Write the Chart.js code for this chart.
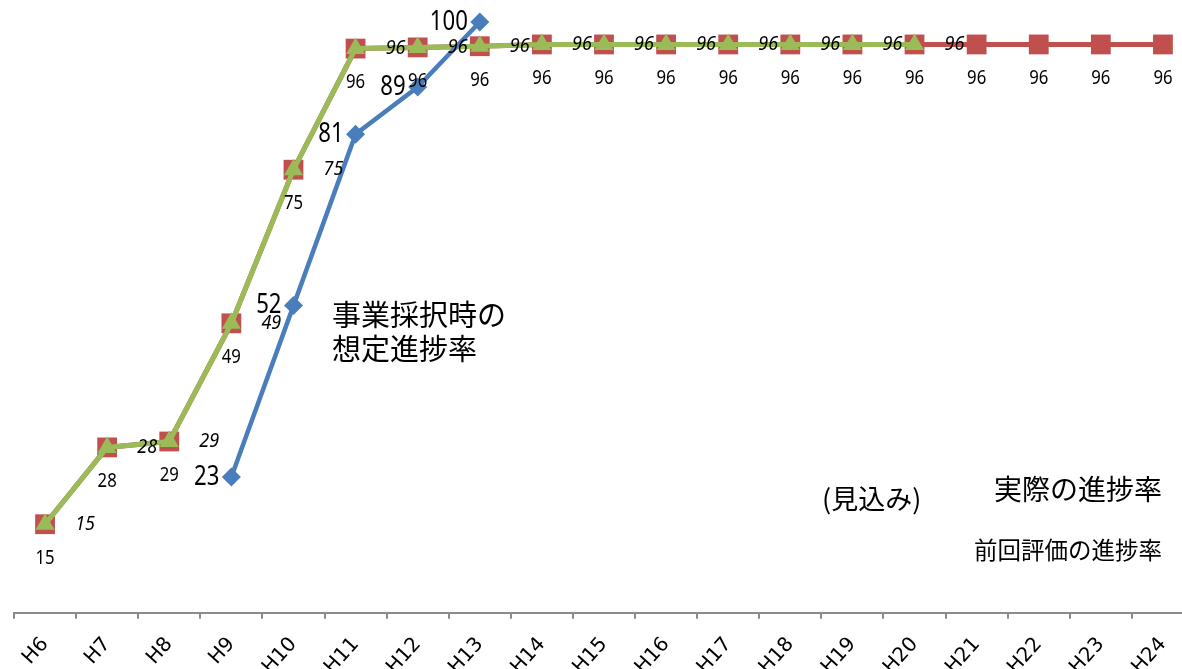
<!DOCTYPE html>
<html lang="ja">
<head>
<meta charset="utf-8">
<script src="https://cdn.jsdelivr.net/npm/chart.js@4/dist/chart.umd.min.js"></script>
<style>
  html, body { margin: 0; padding: 0; background: #fff; overflow: hidden; }
  #wrap { width: 1182px; height: 669px; overflow: hidden; }
</style>
</head>
<body>
<div id="wrap"><canvas id="chart" width="1208" height="693"></canvas></div>
<script>
// Fiscal years (平成) on the x axis.
const categories = [
  "H6", "H7", "H8", "H9", "H10", "H11", "H12", "H13", "H14", "H15",
  "H16", "H17", "H18", "H19", "H20", "H21", "H22", "H23", "H24",
];

// 事業採択時の想定進捗率 (blue diamonds)
const plannedRate = [
  null, null, null, 23, 52, 81, 89, 100, null, null,
  null, null, null, null, null, null, null, null, null,
];

// 実際の進捗率 (見込み) (red squares, runs to H24)
const actualRate = [
  15, 28, 29, 49, 75, 95.5, 95.7, 95.9, 96.2, 96.2,
  96.2, 96.2, 96.2, 96.2, 96.2, 96.2, 96.2, 96.2, 96.2,
];

// 前回評価の進捗率 (green triangles, runs to H20)
const previousRate = [
  15, 28, 29, 49, 75, 95.5, 95.7, 95.9, 96.2, 96.2,
  96.2, 96.2, 96.2, 96.2, 96.2, null, null, null, null,
];

const BLUE = "#4a7ebb";
const RED = "#c0504d";
const GREEN = "#9bbb59";
const NUM_FONT = '"Noto Sans", sans-serif';

// How the value text sits next to each series' points.
// squeeze narrows the glyphs a little, the source used a condensed face.
const labelStyles = [
  { font: "27px " + NUM_FONT, align: "right", dx: -12, dy: 0, squeeze: 0.82 },
  { font: "italic 20px " + NUM_FONT, align: "center", dx: 40, dy: 0, squeeze: 0.9 },
  { font: "19px " + NUM_FONT, align: "center", dx: 0, dy: 34, squeeze: 0.88 },
];

// Draws the numbers beside the markers, using the points the library placed.
const valueLabels = {
  id: "valueLabels",
  afterDatasetsDraw(chart) {
    const ctx = chart.ctx;
    chart.data.datasets.forEach((ds, i) => {
      const style = labelStyles[i];
      const meta = chart.getDatasetMeta(i);
      meta.data.forEach((pt, j) => {
        const v = ds.data[j];
        if (v == null) return;
        ctx.save();
        ctx.font = style.font;
        ctx.fillStyle = "#000";
        ctx.textAlign = style.align;
        ctx.textBaseline = "middle";
        ctx.translate(pt.x + style.dx, pt.y + style.dy);
        ctx.scale(style.squeeze, 1);
        ctx.fillText(String(Math.round(v)), 0, 0);
        ctx.restore();
      });
    });
  },
};

// The free-floating captions that stand in for a legend.
const captions = {
  id: "captions",
  afterDraw(chart) {
    const ctx = chart.ctx;
    ctx.save();
    ctx.fillStyle = "#000";
    ctx.textBaseline = "middle";
    ctx.textAlign = "left";
    ctx.font = '29px "Noto Sans CJK JP", sans-serif';
    ctx.fillText("事業採択時の", 332, 315);
    ctx.fillText("想定進捗率", 332, 349);
    ctx.font = '27px "Noto Sans CJK JP", sans-serif';
    ctx.fillText("(見込み)", 822, 499);
    ctx.textAlign = "right";
    ctx.font = '28px "Noto Sans CJK JP", sans-serif';
    ctx.fillText("実際の進捗率", 1162, 489);
    ctx.font = '23.5px "Noto Sans CJK JP", sans-serif';
    ctx.fillText("前回評価の進捗率", 1162, 550);
    ctx.restore();
  },
};

new Chart(document.getElementById("chart"), {
  type: "line",
  data: {
    labels: categories,
    datasets: [
      {
        label: "事業採択時の想定進捗率",
        data: plannedRate,
        borderColor: BLUE,
        backgroundColor: BLUE,
        borderWidth: 4.5,
        pointStyle: "rectRot",
        pointRadius: 9.5,
        pointBorderWidth: 0,
        clip: false,
        order: 0,
      },
      {
        label: "前回評価の進捗率",
        data: previousRate,
        borderColor: GREEN,
        backgroundColor: GREEN,
        borderWidth: 5,
        pointStyle: "triangle",
        pointRadius: 11,
        pointBorderWidth: 0,
        clip: false,
        order: 1,
      },
      {
        label: "実際の進捗率",
        data: actualRate,
        borderColor: RED,
        backgroundColor: RED,
        borderWidth: 5,
        pointStyle: "rect",
        pointRadius: 14,
        pointBorderWidth: 0,
        clip: false,
        order: 2,
      },
    ],
  },
  options: {
    responsive: false,
    animation: false,
    devicePixelRatio: 1,
    layout: { padding: { left: 5, top: 22, right: 0, bottom: 0 } },
    plugins: {
      legend: { display: false },
      tooltip: { enabled: false },
    },
    scales: {
      x: {
        offset: true,
        grid: {
          offset: true,
          drawOnChartArea: false,
          drawTicks: true,
          tickLength: 6,
          color: "#8c8c8c",
          lineWidth: 2,
        },
        border: { color: "#8c8c8c", width: 2 },
        ticks: {
          autoSkip: false,
          minRotation: 48,
          maxRotation: 48,
          padding: 14,
          color: "#000",
          font: { family: "DejaVu Sans", size: 20 },
        },
      },
      y: {
        display: false,
        min: 0,
        max: 100,
      },
    },
  },
  plugins: [valueLabels, captions],
});
</script>
</body>
</html>
